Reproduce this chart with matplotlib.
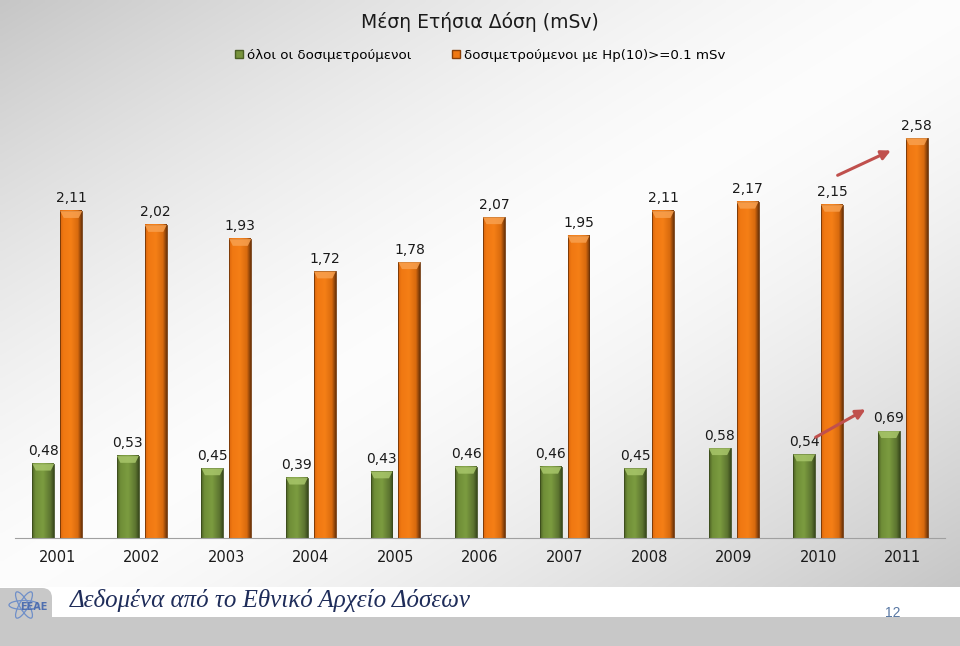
import numpy as np
import matplotlib.pyplot as plt
from matplotlib.patches import Patch, Polygon, FancyBboxPatch, Ellipse
from matplotlib.colors import to_rgb

years = ['2001', '2002', '2003', '2004', '2005', '2006', '2007', '2008', '2009', '2010', '2011']
all_monitored = [0.48, 0.53, 0.45, 0.39, 0.43, 0.46, 0.46, 0.45, 0.58, 0.54, 0.69]
above_threshold = [2.11, 2.02, 1.93, 1.72, 1.78, 2.07, 1.95, 2.11, 2.17, 2.15, 2.58]

series_names = ['όλοι οι δοσιμετρούμενοι', 'δοσιμετρούμενοι με Hp(10)>=0.1 mSv']
title = 'Μέση Ετήσια Δόση (mSv)'
footer = 'Δεδομένα από το Εθνικό Αρχείο Δόσεων'
page_no = '12'

W, H = 960, 646


def shade(ax, x0, w, h, nodes, colors, cap_color):
    # horizontal shading across the bar + a lighter bevel at the top
    t = np.linspace(0, 1, 60)
    cols = np.array([to_rgb(c) for c in colors])
    img = np.stack([np.interp(t, nodes, cols[:, k]) for k in range(3)], axis=-1)[None, :, :]
    ax.imshow(img, extent=(x0, x0 + w, 0, h), aspect='auto', zorder=2, interpolation='bilinear')
    ax.add_patch(plt.Rectangle((x0, 0), w, h, fill=False, ec=colors[-1], lw=0.6, zorder=3))
    cap = 0.045
    ins = w * 0.16
    ax.add_patch(Polygon([(x0, h), (x0 + w, h), (x0 + w - ins, h - cap), (x0 + ins, h - cap)],
                         closed=True, fc=cap_color, ec='none', alpha=0.85, zorder=3))


def main():
    fig = plt.figure(figsize=(W / 100, H / 100), dpi=100)

    # background: gray in top-left and bottom-right corners, white along the other diagonal
    bg = fig.add_axes([0, 0, 1, 1])
    xx, yy = np.meshgrid(np.linspace(0, 1, 240), np.linspace(0, H / 587, 160))
    u = (xx + yy) / 2 - 0.5
    v = np.clip(0.99 - 0.6 * np.abs(u) ** 1.5, 0, 1)
    bg.imshow(np.dstack([v, v, v]), extent=(0, W, H, 0), aspect='auto', interpolation='bilinear')
    bg.set_xlim(0, W)
    bg.set_ylim(H, 0)
    bg.axis('off')

    # footer band
    bg.add_patch(plt.Rectangle((0, 587), W, 60, fc='white', ec='none'))
    bg.add_patch(FancyBboxPatch((-20, 617), W + 40, 60, boxstyle='round,pad=0,rounding_size=10',
                                fc='#c8c8c8', ec='none'))
    bg.add_patch(FancyBboxPatch((-20, 588), 72, 80, boxstyle='round,pad=0,rounding_size=10',
                                fc='#c8c8c8', ec='none'))
    for ang in (0, 60, 120):
        bg.add_patch(Ellipse((24, 605), 30, 9, angle=ang, fill=False, ec='#6f8fc8', lw=0.9))
    bg.text(34, 607, 'EEAE', fontsize=7, color='#4f6fb0', fontweight='bold', ha='center', va='center')
    bg.text(70, 601, footer, fontsize=18, style='italic', family='Liberation Serif',
            color='#1f2d5a', va='center')
    bg.text(893, 613, page_no, fontsize=10, color='#5877a3', ha='center', va='center',
            family='Liberation Sans')

    # chart
    ax = fig.add_axes([15 / W, (H - 538) / H, 930 / W, (538 - 80) / H])
    ax.patch.set_alpha(0)
    n = len(years)
    x = np.arange(n)
    bw = 0.26
    off = 0.165

    green_nodes = [0, 0.15, 0.5, 0.85, 1]
    green_cols = ['#4a5e24', '#6f8d37', '#7c9c40', '#5c7430', '#3a4a1c']
    orange_nodes = [0, 0.15, 0.5, 0.82, 1]
    orange_cols = ['#d9650c', '#f07812', '#f57f16', '#d86a0e', '#6e3408']

    for i in range(n):
        shade(ax, x[i] - off - bw / 2, bw, all_monitored[i], green_nodes, green_cols, '#a8c66a')
        shade(ax, x[i] + off - bw / 2, bw, above_threshold[i], orange_nodes, orange_cols, '#f8a04e')
        for xc, val in ((x[i] - off, all_monitored[i]), (x[i] + off, above_threshold[i])):
            ax.annotate(f'{val:.2f}'.replace('.', ','), (xc, val), xytext=(0, 4),
                        textcoords='offset points', ha='center', va='bottom',
                        fontsize=10, color='#1a1a1a')

    ax.set_xlim(-0.5, n - 0.5)
    ax.set_ylim(0, (538 - 80) / 155)
    ax.set_xticks(x)
    ax.set_xticklabels(years, fontsize=10.5, color='#1a1a1a')
    ax.tick_params(axis='x', length=0, pad=9)
    ax.set_yticks([])
    for s in ('top', 'right', 'left'):
        ax.spines[s].set_visible(False)
    ax.spines['bottom'].set_color('#a0a0a0')

    # trend arrows
    arrow = dict(arrowstyle='-|>', color='#c0504d', lw=2.2, mutation_scale=14, shrinkA=0, shrinkB=0)
    ax.annotate('', xy=(9.86, 2.50), xytext=(9.23, 2.34), arrowprops=arrow)
    ax.annotate('', xy=(9.56, 0.83), xytext=(8.97, 0.65), arrowprops=arrow)

    fig.text(0.5, 1 - 22 / H, title, ha='center', va='center', fontsize=13.5, color='#1a1a1a')
    handles = [Patch(fc='#77933c', ec='#4a5e24'), Patch(fc='#f07812', ec='#8a4008')]
    fig.legend(handles, series_names, loc='center', bbox_to_anchor=(0.5, 1 - 55 / H), ncol=2,
               frameon=False, fontsize=9.6, handlelength=0.6, handleheight=0.6, handletextpad=0.3,
               columnspacing=3.0)

    fig.savefig('out.png', dpi=100)


if __name__ == '__main__':
    main()
